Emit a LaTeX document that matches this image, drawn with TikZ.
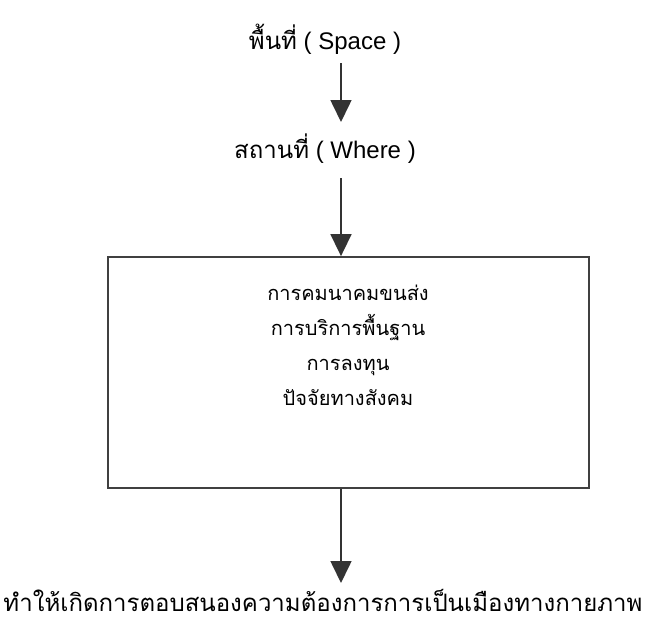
\documentclass[tikz,border=0pt]{standalone}
\usepackage{fontspec}
\setmainfont{Liberation Sans}
\newfontfamily\thai[Script=Thai]{Loma}
\usetikzlibrary{arrows.meta}
\tikzset{
  lbl/.style={inner sep=0pt, font=\fontsize{24}{28}\selectfont},
  conn/.style={draw=black!80, line width=1.6pt, -{Triangle[length=22pt,width=21pt]}},
  frame/.style={draw=black!75, line width=1.8pt}
}
\begin{document}
\begin{tikzpicture}[x=1pt,y=-1pt]
\useasboundingbox (0,0) rectangle (646,622);
\node[lbl, anchor=base] (space) at (325,49) {{\thai พื้นที่} ( Space )};
\node[lbl, anchor=base] (where) at (325,158) {{\thai สถานที่} ( Where )};
\node[frame, minimum width=481pt, minimum height=231pt, inner sep=0pt] (box) at (348.5,372.5) {};
\node[inner sep=0pt, align=center, font=\thai\fontsize{20}{35}\selectfont] (factors) at (348,345) {การคมนาคมขนส่ง\\การบริการพื้นฐาน\\การลงทุน\\ปัจจัยทางสังคม};
\node[lbl, anchor=base, font=\thai\fontsize{24}{28}\selectfont] (result) at (323,611) {ทำให้เกิดการตอบสนองความต้องการการเป็นเมืองทางกายภาพ};
\coordinate (a1s) at (341,63);
\coordinate (a1e) at (341,122);
\coordinate (a2s) at (341,178);
\coordinate (a3e) at (341,583);
\draw[conn] (a1s) -- (a1e);
\draw[conn] (a2s) -- (a2s |- box.north);
\draw[conn] (a3e |- box.south) -- (a3e);
\end{tikzpicture}
\end{document}
